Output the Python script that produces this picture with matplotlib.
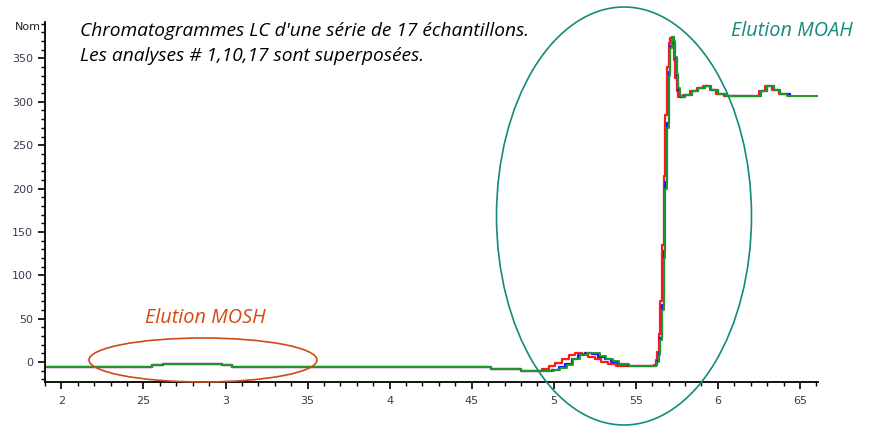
import matplotlib.pyplot as plt
from matplotlib.patches import Ellipse
from matplotlib.ticker import MultipleLocator

# retention time (min) / signal
GREEN_T = [1.90, 2.55, 2.62, 2.98, 3.04, 4.62, 4.80, 5.00, 5.04, 5.08, 5.12, 5.16, 5.20,
           5.24, 5.28, 5.32, 5.36, 5.40, 5.46, 5.62, 5.63, 5.64, 5.65, 5.66, 5.67, 5.68,
           5.69, 5.70, 5.71, 5.72, 5.73, 5.74, 5.75, 5.76, 5.77, 5.78, 5.80, 5.84, 5.88,
           5.92, 5.96, 6.00, 6.05, 6.22, 6.26, 6.30, 6.34, 6.38, 6.42, 6.61]
GREEN_Y = [-6, -3, -2, -3, -6, -8, -10, -9, -7, -3, 3, 8, 11,
           10, 7, 4, 1, -2, -4, -3, 0, 8, 25, 60, 120, 200,
           270, 330, 362, 375, 370, 352, 332, 316, 307, 305, 308, 312, 316,
           318, 314, 309, 307, 307, 312, 318, 314, 309, 307, 307]
RED_T = [1.90, 2.55, 2.62, 2.98, 3.04, 4.62, 4.80, 4.93, 4.97, 5.01, 5.05, 5.09, 5.13,
         5.17, 5.21, 5.25, 5.29, 5.33, 5.38, 5.46, 5.61, 5.62, 5.63, 5.64, 5.65, 5.66,
         5.67, 5.68, 5.69, 5.70, 5.71, 5.72, 5.73, 5.74, 5.75, 5.76, 5.77, 5.79, 5.83,
         5.87, 5.91, 5.95, 5.99, 6.04, 6.21, 6.25, 6.29, 6.33, 6.37, 6.44]
RED_Y = [-6, -3, -2, -3, -6, -8, -10, -8, -5, -1, 4, 8, 10,
         9, 6, 3, 0, -2, -4, -5, -3, 2, 12, 32, 70, 135, 215,
         285, 340, 368, 374, 366, 348, 328, 312, 305, 306, 308, 312,
         316, 318, 314, 309, 307, 307, 312, 318, 314, 309, 307]
BLUE_T = [1.90, 2.55, 2.62, 2.98, 3.04, 4.62, 4.80, 4.99, 5.03, 5.07, 5.11, 5.15, 5.19,
          5.23, 5.27, 5.31, 5.35, 5.39, 5.45, 5.62, 5.63, 5.64, 5.65, 5.66, 5.67, 5.68,
          5.69, 5.70, 5.71, 5.72, 5.73, 5.74, 5.75, 5.76, 5.77, 5.78, 5.80, 5.84, 5.88,
          5.92, 5.96, 6.00, 6.05, 6.22, 6.26, 6.30, 6.34, 6.38, 6.44]
BLUE_Y = [-6, -3, -2, -3, -6, -8, -10, -9, -6, -2, 4, 8, 10,
          9, 6, 3, 0, -2, -4, -3, 1, 10, 28, 66, 128, 208,
          276, 334, 364, 375, 368, 350, 330, 314, 306, 305, 308, 312, 316,
          318, 314, 309, 307, 307, 312, 318, 314, 309, 307]

X_TICKS = [2, 2.5, 3, 3.5, 4, 4.5, 5, 5.5, 6, 6.5]
X_LABELS = ["2", "25", "3", "35", "4", "45", "5", "55", "6", "65"]
Y_TICKS = [0, 50, 100, 150, 200, 250, 300, 350]
Y_LABELS = ["0", "50", "100", "150", "200", "250", "300", "350"]

fig = plt.figure(figsize=(8.7, 4.28), dpi=100)
ax = fig.add_axes([45 / 870, 1 - 382 / 428, 773 / 870, 360 / 428])

ax.plot(RED_T, RED_Y, drawstyle="steps-post", color="#ff1a1a", lw=1.6)
ax.plot(BLUE_T, BLUE_Y, drawstyle="steps-post", color="#1a1aff", lw=1.6)
ax.plot(GREEN_T, GREEN_Y, drawstyle="steps-post", color="#1f9a1f", lw=1.4)

ax.set_xlim(1.9, 6.61)
ax.set_ylim(-23, 392)
for s in ["top", "right"]:
    ax.spines[s].set_visible(False)
for s in ["left", "bottom"]:
    ax.spines[s].set_linewidth(1.3)
ax.set_xticks(X_TICKS)
ax.set_xticklabels(X_LABELS)
ax.set_yticks(Y_TICKS)
ax.set_yticklabels(Y_LABELS)
ax.xaxis.set_minor_locator(MultipleLocator(0.1))
ax.yaxis.set_minor_locator(MultipleLocator(10))
ax.tick_params(axis="both", which="major", length=5, width=1.2, labelsize=8, colors="black",
               labelcolor="#3a3a50")
ax.tick_params(axis="both", which="minor", length=3, width=1.0)
ax.tick_params(axis="x", pad=5)
ax.text(-0.005, 0.985, "Nom", transform=ax.transAxes, ha="right", va="center",
        fontsize=8, color="#222222")

txt = dict(family="Open Sans", style="italic")
fig.text(80 / 870, 1 - 31 / 428, "Chromatogrammes LC d'une série de 17 échantillons.",
         fontsize=13.8, va="center", **txt)
fig.text(80 / 870, 1 - 56 / 428, "Les analyses # 1,10,17 sont superposées.",
         fontsize=13.8, va="center", **txt)
fig.text(853 / 870, 1 - 31 / 428, "Elution MOAH", fontsize=14.3, ha="right",
         va="center", color="#158a7c", **txt)
fig.text(205 / 870, 1 - 318 / 428, "Elution MOSH", fontsize=14.3, ha="center",
         va="center", color="#d9480f", **txt)

fig.add_artist(Ellipse((203 / 870, 1 - 360 / 428), 228 / 870, 44 / 428,
                       transform=fig.transFigure, fill=False, ec="#cc4a1a", lw=1.2))
fig.add_artist(Ellipse((624 / 870, 1 - 216 / 428), 255 / 870, 418 / 428,
                       transform=fig.transFigure, fill=False, ec="#138a7a", lw=1.2))

fig.savefig("out.png", dpi=100)
